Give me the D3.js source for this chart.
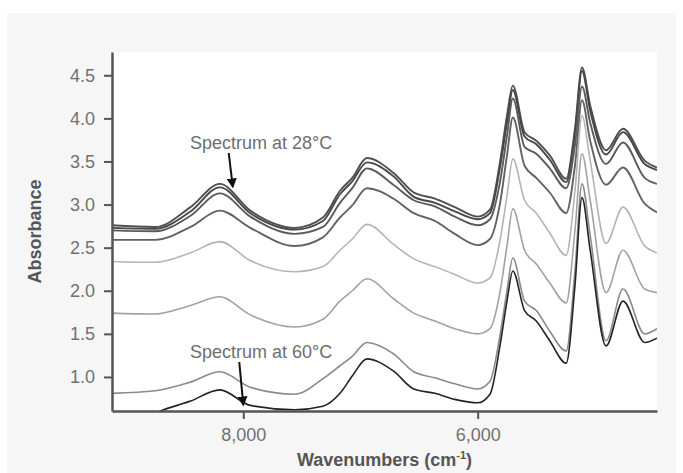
<!DOCTYPE html>
<html>
<head>
<meta charset="utf-8"/>
<title>NIR spectra vs temperature</title>
<script src="https://d3js.org/d3.v7.min.js"></script>
<style>
    body { margin: 0; background: #fff; }
    svg text { font-family: "Liberation Sans", Arial, sans-serif; }
    .axis path, .axis line { stroke: #555; }
    .axis text { fill: #717171; font-size: 18px; }
    .title { fill: #555; font-size: 18px; font-weight: bold; }
    .note { fill: #6e6e6e; font-size: 18px; }
</style>
</head>
<body>
<div id="chart"></div>
<script>
// x positions of the readings (wavenumbers, cm-1)
var wavenumbers = [9120, 8750, 8450, 8200, 7940, 7560, 7320, 7175, 7070, 6945,
                   6720, 6545, 6365, 6195, 6000, 5895, 5810, 5750, 5700, 5600,
                   5500, 5385, 5245, 5170, 5110, 5040, 4905, 4760, 4575, 4470];

// absorbance, top spectrum (28°C) down to bottom (60°C)
var spec1 = [2.76, 2.74, 2.97, 3.24, 2.93, 2.73, 2.85, 3.16, 3.31, 3.54, 3.37, 3.14, 3.07, 2.97, 2.86,
             2.94, 3.49, 4.03, 4.38, 3.84, 3.74, 3.57, 3.30, 3.88, 4.59, 4.15, 3.63, 3.88, 3.51, 3.43];
var spec2 = [2.73, 2.72, 2.92, 3.20, 2.90, 2.71, 2.81, 3.12, 3.27, 3.49, 3.33, 3.09, 3.02, 2.92, 2.83,
             2.90, 3.43, 3.95, 4.33, 3.79, 3.70, 3.52, 3.26, 3.83, 4.55, 4.09, 3.58, 3.84, 3.47, 3.40];
var spec3 = [2.70, 2.69, 2.87, 3.13, 2.86, 2.66, 2.74, 3.02, 3.19, 3.42, 3.23, 3.05, 2.98, 2.86, 2.76,
             2.83, 3.26, 3.80, 4.23, 3.67, 3.59, 3.42, 3.19, 3.69, 4.37, 3.95, 3.47, 3.72, 3.31, 3.24];
var spec4 = [2.59, 2.59, 2.74, 2.93, 2.73, 2.52, 2.62, 2.85, 2.99, 3.19, 3.07, 2.90, 2.81, 2.66, 2.53,
             2.60, 3.01, 3.57, 4.01, 3.45, 3.31, 3.14, 2.90, 3.45, 4.21, 3.74, 3.23, 3.43, 3.01, 2.91];
var spec5 = [2.34, 2.33, 2.44, 2.57, 2.35, 2.22, 2.28, 2.47, 2.60, 2.77, 2.54, 2.37, 2.28, 2.19, 2.09,
             2.15, 2.58, 3.10, 3.53, 3.05, 2.90, 2.67, 2.41, 3.16, 4.03, 3.51, 2.55, 2.97, 2.52, 2.44];
var spec6 = [1.74, 1.73, 1.83, 1.93, 1.72, 1.58, 1.67, 1.88, 2.00, 2.14, 1.91, 1.74, 1.65, 1.56, 1.50,
             1.56, 1.98, 2.52, 2.95, 2.47, 2.31, 2.09, 1.86, 2.70, 3.59, 3.05, 1.98, 2.47, 2.02, 1.98];
var spec7 = [0.81, 0.84, 0.94, 1.06, 0.88, 0.80, 0.98, 1.13, 1.24, 1.40, 1.27, 1.06, 0.99, 0.92, 0.86,
             0.95, 1.48, 2.00, 2.38, 1.88, 1.77, 1.53, 1.30, 2.23, 3.24, 2.64, 1.42, 2.02, 1.50, 1.56];
var spec8 = [0.26, 0.58, 0.72, 0.85, 0.67, 0.62, 0.66, 0.81, 1.01, 1.21, 1.07, 0.86, 0.81, 0.74, 0.70,
             0.80, 1.36, 1.88, 2.23, 1.77, 1.65, 1.42, 1.16, 2.06, 3.08, 2.47, 1.36, 1.88, 1.40, 1.45];

var yTicks = [1.0, 1.5, 2.0, 2.5, 3.0, 3.5, 4.0, 4.5];
var xTicks = [8000, 6000];

var spectra = [spec1, spec2, spec3, spec4, spec5, spec6, spec7, spec8];
var lineColors = ["#505050", "#474747", "#5a5a5a", "#626262", "#b4b4b4", "#a2a2a2", "#8a8a8a", "#232323"];

var width = 683, height = 473;
var margin = {top: 52, right: 26, bottom: 62, left: 112};

var svg = d3.select("#chart").append("svg")
    .attr("width", width)
    .attr("height", height);

// grey card behind the chart
svg.append("rect")
    .attr("x", 7).attr("y", 13)
    .attr("width", 669).attr("height", 460)
    .attr("fill", "#f6f6f6");

var x = d3.scaleLinear()
    .domain([9120, 4470])
    .range([margin.left, width - margin.right]);
var y = d3.scaleLinear()
    .domain([0.605, 4.77])
    .range([height - margin.bottom, margin.top]);

svg.append("rect")
    .attr("x", margin.left).attr("y", margin.top)
    .attr("width", x.range()[1] - margin.left)
    .attr("height", y.range()[0] - margin.top)
    .attr("fill", "#fff");

svg.append("clipPath").attr("id", "plot-clip")
  .append("rect")
    .attr("x", margin.left).attr("y", margin.top)
    .attr("width", x.range()[1] - margin.left)
    .attr("height", y.range()[0] - margin.top);

var line = d3.line()
    .x(function(d, i){ return x(wavenumbers[i]); })
    .y(function(d){ return y(d); })
    .curve(d3.curveMonotoneX);

svg.append("g")
    .attr("clip-path", "url(#plot-clip)")
  .selectAll(".spectrum")
    .data(spectra)
    .enter()
    .append("path")
    .attr("class", "spectrum")
    .attr("d", line)
    .attr("fill", "none")
    .attr("stroke", function(d, i){ return lineColors[i]; })
    .attr("stroke-width", function(d, i){ return i < 4 ? 1.9 : 1.6; })
    .attr("stroke-linejoin", "round");

// axes
var yAxis = d3.axisLeft(y)
    .tickValues(yTicks)
    .tickFormat(d3.format(".1f"))
    .tickSize(8)
    .tickPadding(9)
    .tickSizeOuter(0);
svg.append("g")
    .attr("class", "axis")
    .attr("transform", "translate(" + margin.left + ",0)")
    .call(yAxis);

var xAxis = d3.axisBottom(x)
    .tickValues(xTicks)
    .tickFormat(d3.format(","))
    .tickSize(8)
    .tickPadding(9)
    .tickSizeOuter(0);
svg.append("g")
    .attr("class", "axis")
    .attr("transform", "translate(0," + y.range()[0] + ")")
    .call(xAxis);

svg.selectAll(".axis .domain").attr("stroke-width", 2.5);
svg.selectAll(".axis .tick line").attr("stroke-width", 2);

// axis titles
var xTitle = svg.append("text")
    .attr("class", "title")
    .attr("x", (margin.left + x.range()[1]) / 2)
    .attr("y", 466)
    .attr("text-anchor", "middle");
xTitle.append("tspan").text("Wavenumbers (cm");
xTitle.append("tspan").attr("dy", -7).attr("font-size", 11).text("-1");
xTitle.append("tspan").attr("dy", 7).text(")");

svg.append("text")
    .attr("class", "title")
    .attr("transform", "translate(41," + ((margin.top + y.range()[0]) / 2) + ") rotate(-90)")
    .attr("text-anchor", "middle")
    .text("Absorbance");

// annotations
svg.append("defs").append("marker")
    .attr("id", "arrow")
    .attr("viewBox", "0 0 10 10")
    .attr("refX", 8).attr("refY", 5)
    .attr("markerWidth", 5).attr("markerHeight", 5)
    .attr("orient", "auto")
  .append("path")
    .attr("d", "M0,0 L10,5 L0,10 z")
    .attr("fill", "#111");

function annotate(label, tx, ty, wn, abs){
    svg.append("text")
        .attr("class", "note")
        .attr("x", tx).attr("y", ty)
        .text(label);
    svg.append("line")
        .attr("x1", x(wn) - 4).attr("y1", ty + 4)
        .attr("x2", x(wn)).attr("y2", y(abs))
        .attr("stroke", "#111")
        .attr("stroke-width", 2)
        .attr("marker-end", "url(#arrow)");
}
annotate("Spectrum at 28°C", 190, 149, 8090, 3.21);
annotate("Spectrum at 60°C", 190, 358, 8000, 0.68);
</script>
</body>
</html>
